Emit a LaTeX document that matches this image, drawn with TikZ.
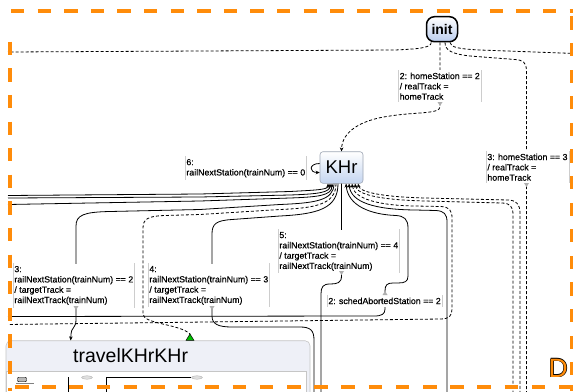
\documentclass[tikz,border=0pt]{standalone}
\usepackage{fontspec}
\setmainfont{Liberation Sans}
\newfontfamily\lblfam[FakeBold=0.45]{Liberation Sans}
\usetikzlibrary{positioning,arrows.meta,shapes.geometric}

\definecolor{dorange}{RGB}{255,140,10}
\definecolor{stateblue}{RGB}{196,213,240}
\definecolor{initblue}{RGB}{186,205,238}
\definecolor{stateline}{RGB}{158,166,180}
\definecolor{headfill}{RGB}{238,240,247}
\definecolor{bargray}{RGB}{205,205,205}
\definecolor{tipgray}{RGB}{175,175,175}

\newcommand{\lblfont}{\lblfam\fontsize{8.8}{10.3}\selectfont}
\newcommand{\outlined}[1]{%
  \rlap{\textcolor{black}{\kern-0.7pt#1}}%
  \rlap{\textcolor{black}{\kern0.7pt#1}}%
  \rlap{\textcolor{black}{\raisebox{0.7pt}{#1}}}%
  \rlap{\textcolor{black}{\raisebox{-0.7pt}{#1}}}%
  \textcolor{dorange}{#1}}

\tikzset{
  tr/.style={draw=black, line width=0.8pt},
  trd/.style={tr, dash pattern=on 3pt off 2pt},
  tip/.style={-{Stealth[length=4pt,width=3.6pt]}},
  rtip/.style={{Stealth[length=4pt,width=3.6pt]}-},
  bar/.style={draw=bargray, line width=0.7pt},
  lbl/.style={fill=white, anchor=north west, align=left, font=\lblfont,
    inner xsep=1.2pt, inner ysep=2.5pt,
    append after command={(\tikzlastnode.north west) edge[bar] (\tikzlastnode.south west)
      (\tikzlastnode.north east) edge[bar] (\tikzlastnode.south east)}},
  initbox/.style={draw=black, line width=1.5pt, rounded corners=8pt,
    top color=white, bottom color=initblue, minimum width=31pt, minimum height=25pt,
    inner sep=0pt, font=\bfseries\fontsize{14}{14}\selectfont},
  statebox/.style={draw=stateline, line width=0.6pt, rounded corners=3pt,
    top color=white, bottom color=stateblue, minimum width=43pt, minimum height=31.6pt,
    inner sep=0pt, font=\fontsize{18.5}{18.5}\selectfont},
  travelbox/.style={draw=gray!45, line width=0.6pt, rounded corners=5pt, fill=headfill,
    minimum width=304pt, minimum height=59.3pt, inner sep=0pt},
  border/.style={draw=dorange, line width=4pt, dash pattern=on 13.3pt off 13.3pt}
}

\begin{document}
\begin{tikzpicture}[x=1pt, y=-1pt]
  \useasboundingbox (0,0) rectangle (573,391);
  \fill[white] (0,0) rectangle (573,391);
  \clip (0,0) rectangle (573,391);

  % states
  \node[initbox] (init) at (442,29.2) {init};
  \node[statebox] (khr) at (341.5,167.5) {KHr};
  \node[travelbox] (travel) at (158,370.35) {};
  \draw[fill=white, draw=gray!45, line width=0.6pt] (6,371.7) rectangle (306,400);
  \node[anchor=base west, inner sep=0pt, font=\fontsize{19.5}{19.5}\selectfont] (traveltitle) at (73,362.5) {travelKHrKHr};

  % inside of travelKHrKHr
  \node[draw=black, fill=gray!55, rounded corners=1pt, minimum width=9pt, minimum height=4.5pt,
    inner sep=0pt, line width=0.4pt] (mini0) at (22,379.5) {};
  \node[draw=gray!70, fill=gray!25, ellipse, minimum width=11pt, minimum height=3.5pt,
    inner sep=0pt, line width=0.3pt] (mini1) at (87,377.5) {};
  \node[draw=gray!70, fill=gray!25, ellipse, minimum width=11pt, minimum height=3.5pt,
    inner sep=0pt, line width=0.3pt] (mini2) at (197,377.5) {};
  \draw[gray, line width=0.4pt] (16,383.5) -- (34,383.5);
  \draw[line width=0.4pt] (68,377) -- (68,392);
  \draw[line width=0.4pt] (106,392) |- (mini2.west);

  % free ends outside the view
  \coordinate (aw) at (8,52);
  \coordinate (ae) at (575,53.5);
  \coordinate (as) at (526.5,395);
  \coordinate (w1) at (8,195.5);
  \coordinate (w2) at (8,198);
  \coordinate (w4) at (8,204.5);
  \coordinate (wsched) at (8,316.5);
  \coordinate (wdash) at (8,324.5);
  \coordinate (s5) at (321,395);
  \coordinate (s6) at (314,395);
  \coordinate (s447) at (447,395);
  \coordinate (s513) at (513,395);
  \coordinate (s520) at (520,395);
  \coordinate (gtop) at (190,334);

  % transitions of init
  \draw[trd] ([xshift=5.5pt]init.south west) .. controls +(0,6) and (415,49) .. (395,50) -- (aw);
  \draw[trd, tip] ([xshift=-2pt]init.south) -- (440,107)
    .. controls (440,114) and (415,112) .. (390,116)
    .. controls (360,120) and (342,132) .. (khr.north);
  \draw[trd] ([xshift=3pt]init.south) .. controls +(0,8) and (452,54) .. (470,56) -- (515,59.5)
    .. controls (523,60) and (526.5,63) .. (526.5,70) -- (as);
  \draw[trd] ([xshift=8pt]init.south) .. controls +(0,5) and (460,49) .. (480,50) -- (ae);

  % self loop
  \draw[tr, tip] ([yshift=4pt]khr.west) .. controls +(-11,0) and +(-11,0) .. ([yshift=-5pt]khr.west);

  % left fan
  \draw[tr, rtip] ([xshift=-13.5pt]khr.south) .. controls +(0,6) and (318,190) .. (290,191.5) -- (200,194) -- (w1);
  \draw[tr, rtip] ([xshift=-11.5pt]khr.south) .. controls +(0,9) and (318,194) .. (290,195) -- (200,197) -- (w2);
  \draw[tr, rtip] ([xshift=-9.5pt]khr.south) .. controls +(0,12) and (318,197) .. (290,198) -- (200,201) -- (w4);
  \draw[tr, tip] ([xshift=-7.5pt]khr.south) .. controls +(0,17) and (315,203) .. (280,204.5) -- (200,209.5)
    -- (110,211.5) .. controls (84,212) and (76,215) .. (76,226) -- (76,320)
    .. controls (76,328) and (71,328) .. (71,334) -- ([xshift=65pt]travel.north west);
  \draw[trd] ([xshift=-5.5pt]khr.south) .. controls +(0,21) and (315,208) .. (280,209.5) -- (200,214.5)
    -- (165,215.5) .. controls (148,216) and (143,219) .. (143,228) -- (143,314)
    .. controls (143,324) and (180,324) .. (gtop);
  \draw[tr] ([xshift=-3.5pt]khr.south) .. controls +(0,25) and (318,214) .. (280,216) -- (232,219.5)
    .. controls (216,220.5) and (212,224) .. (212,234) -- (212,316)
    .. controls (212,324) and (218,327) .. (232,327) -- (300,327)
    .. controls (310,327) and (314,330) .. (314,340) -- (s6);

  % straight down
  \draw[tr] (khr.south) -- (341.5,276) .. controls (341.5,283) and (337,284) .. (330,284)
    .. controls (323,284) and (321,287) .. (321,294) -- (s5);

  % right fan
  \draw[tr, rtip] ([xshift=4.5pt]khr.south) .. controls +(2,22) and (370,214.5) .. (396,215.5)
    .. controls (404,216) and (408,219) .. (408,228) -- (408,276)
    .. controls (408,281.5) and (405,283) .. (398,283) -- (393,283)
    .. controls (387,283) and (385,285) .. (385,291) -- (385,309)
    .. controls (385,314) and (382,316) .. (374,316) -- (wsched);
  \draw[tr, rtip] ([xshift=7.5pt]khr.south) .. controls +(2,19) and (375,209.5) .. (415,210) -- (436,210.5)
    .. controls (444,211) and (447,214) .. (447,222) -- (s447);
  \draw[trd, rtip] ([xshift=10.5pt]khr.south) .. controls +(2,15) and (378,205.5) .. (415,206) -- (441,206.5)
    .. controls (449,207) and (452,210) .. (452,218) -- (452,309)
    .. controls (452,316) and (449,318.8) .. (441,319) -- (wdash);
  \draw[trd, rtip] ([xshift=13.5pt]khr.south) .. controls +(2,12) and (385,200) .. (425,201) -- (502,203)
    .. controls (510,203.3) and (513,206) .. (513,215) -- (s513);
  \draw[trd, rtip] ([xshift=16.5pt]khr.south) .. controls +(2,9) and (385,197) .. (425,198) -- (508,200)
    .. controls (516,200.3) and (520,204) .. (520,213) -- (s520);

  % labels
  \node[lbl] (lab6) at (185,156.3) {6:\\railNextStation(trainNum) == 0};
  \node[lbl] (lab2) at (398.3,70) {2: homeStation == 2\\/ realTrack =\\homeTrack};
  \node[lbl] (lab3h) at (486,151) {3: homeStation == 3\\/ realTrack =\\homeTrack};
  \node[lbl] (lab5) at (278,229.3) {5:\\railNextStation(trainNum) == 4\\/ targetTrack =\\railNextTrack(trainNum)};
  \node[lbl] (lab3) at (13,263.3) {3:\\railNextStation(trainNum) == 2\\/ targetTrack =\\railNextTrack(trainNum)};
  \node[lbl] (lab4) at (148,263.3) {4:\\railNextStation(trainNum) == 3\\/ targetTrack =\\railNextTrack(trainNum)};
  \node[lbl] (labab) at (327,295) {2: schedAbortedStation == 2};

  % label anchors
  \foreach \p in {(440,104),(526.5,185),(76,308),(212,308),(341.5,273)}
    \fill[tipgray] \p +(-2.5,-2) -- +(2.5,-2) -- +(0,2) -- cycle;
  \fill[tipgray] (385,293) +(-2.5,2) -- +(2.5,2) -- +(0,-2) -- cycle;
  \filldraw[fill=green!75!black, draw=black, line width=0.5pt]
    ([xshift=-4pt]gtop |- travel.north) -- ([xshift=4pt]gtop |- travel.north) -- (gtop) -- cycle;

  % orange frame
  \draw[border] (11,11) -- (575,11);
  \draw[border] (10,41.7) -- (10,391);
  \draw[border, dash pattern=on 13.6pt off 13.6pt] (15,387) -- (575,387);
  \draw[border] (571.7,16.3) -- (571.7,391);
  \node[anchor=base west, inner sep=0pt, font=\fontsize{26.5}{26.5}\selectfont] (dmark) at (548.5,377) {\outlined{D}};
\end{tikzpicture}
\end{document}
